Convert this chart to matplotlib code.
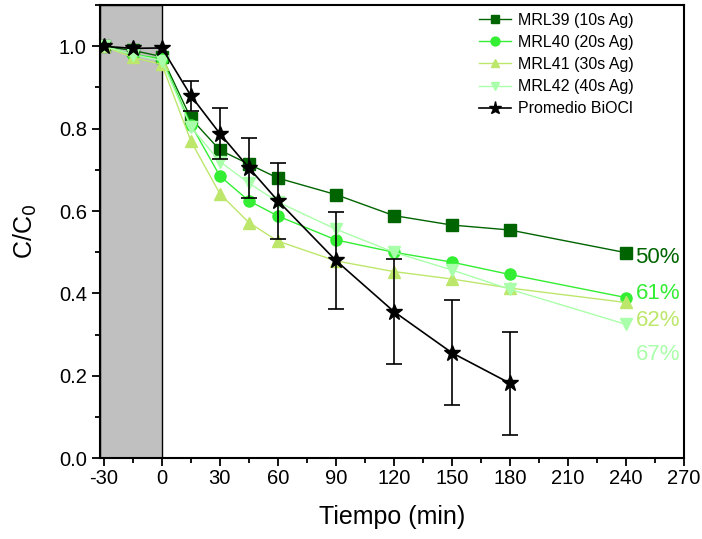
import matplotlib.pyplot as plt
from matplotlib.ticker import MultipleLocator

plt.rcParams['font.family'] = ['Liberation Sans', 'DejaVu Sans']
plt.rcParams['axes.unicode_minus'] = False

# tiempo (min)
t = [-30, -15, 0, 15, 30, 45, 60, 90, 120, 150, 180, 240]
t_bioc = [-30, -15, 0, 15, 30, 45, 60, 90, 120, 150, 180]

mrl39 = [1.0, 0.99, 0.975, 0.825, 0.748, 0.714, 0.680, 0.640, 0.589, 0.566, 0.554, 0.499]
mrl40 = [1.0, 0.98, 0.97, 0.81, 0.685, 0.625, 0.588, 0.530, 0.500, 0.476, 0.446, 0.390]
mrl41 = [1.0, 0.973, 0.956, 0.770, 0.642, 0.572, 0.527, 0.479, 0.453, 0.435, 0.413, 0.378]
mrl42 = [1.0, 0.98, 0.965, 0.804, 0.720, 0.668, 0.622, 0.556, 0.500, 0.457, 0.410, 0.325]

bioc = [1.0, 0.995, 0.996, 0.880, 0.788, 0.705, 0.625, 0.480, 0.356, 0.256, 0.182]
bioc_err = [0, 0, 0, 0.036, 0.062, 0.073, 0.092, 0.118, 0.128, 0.128, 0.125]

labels = ['MRL39 (10s Ag)', 'MRL40 (20s Ag)', 'MRL41 (30s Ag)', 'MRL42 (40s Ag)']
colors = ['#006400', '#33ee33', '#bde76b', '#aaffaa']
markers = ['s', 'o', '^', 'v']
pct = ['50%', '61%', '62%', '67%']
pct_y = [0.487, 0.40, 0.334, 0.252]

fig = plt.figure(figsize=(7.02, 5.39), dpi=100)
ax = fig.add_axes([0.1425, 0.150, 0.8315, 0.8405])

ax.axvspan(-32, 0, facecolor='#c0c0c0', edgecolor='black', linewidth=1)

for y, lab, c, m in zip([mrl39, mrl40, mrl41, mrl42], labels, colors, markers):
    ax.plot(t, y, color=c, marker=m, markersize=8, linewidth=1, label=lab)

ax.plot(t_bioc, bioc, color='black', marker='*', markersize=12, linewidth=1.2,
        label='Promedio BiOCl')
# barras de error solo donde hay desviacion
te = [x for x, e in zip(t_bioc, bioc_err) if e > 0]
ye = [y for y, e in zip(bioc, bioc_err) if e > 0]
ee = [e for e in bioc_err if e > 0]
ax.errorbar(te, ye, yerr=ee, fmt='none', ecolor='black', capsize=6, elinewidth=1.2,
            capthick=1.2)

for s, yy, c in zip(pct, pct_y, colors):
    ax.text(245, yy, s, color=c, fontsize=16, ha='left', va='center')

ax.set_xlim(-32, 270)
ax.set_ylim(0, 1.1)
ax.set_xticks([-30, 0, 30, 60, 90, 120, 150, 180, 210, 240, 270])
ax.xaxis.set_minor_locator(MultipleLocator(15))
ax.yaxis.set_major_locator(MultipleLocator(0.2))
ax.yaxis.set_minor_locator(MultipleLocator(0.1))
ax.tick_params(which='major', length=6, width=1.3, labelsize=14.5)
ax.tick_params(axis='x', which='major', pad=2)
ax.tick_params(which='minor', length=3.5, width=1.3)
for sp in ax.spines.values():
    sp.set_linewidth(1.5)

ax.set_xlabel('Tiempo (min)', fontsize=18, labelpad=12)
ax.set_ylabel('C/C$_0$', fontsize=18, labelpad=14)

ax.legend(loc='upper left', bbox_to_anchor=(0.625, 1.015), frameon=False, fontsize=11.5,
          handlelength=2, markerscale=0.8, labelspacing=0.45, handletextpad=0.4)

fig.savefig('out.png', dpi=100)
